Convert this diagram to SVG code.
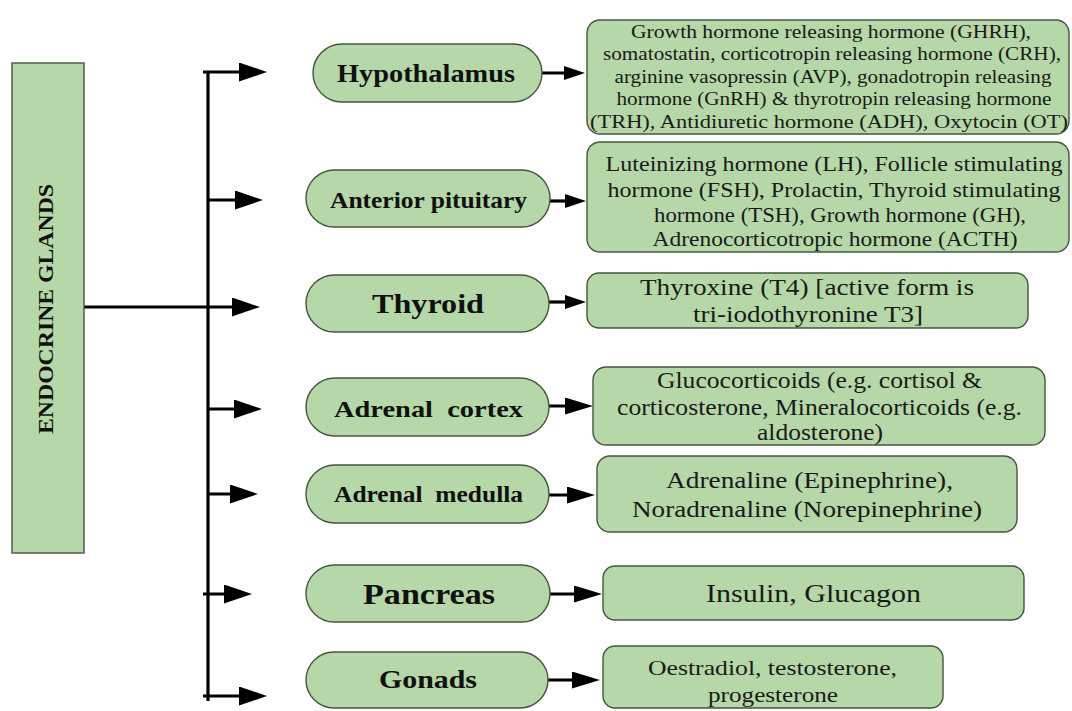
<svg xmlns="http://www.w3.org/2000/svg" width="1072" height="711" viewBox="0 0 1072 711">
<style>
  .bg { fill: #ffffff; }
  .node { fill: #b6d7a8; stroke: #45553f; stroke-width: 1.4; }
  .lbl { font-family: "Liberation Serif", "Times New Roman", serif; font-weight: bold; fill: #111; text-anchor: middle; }
  .txt { font-family: "Liberation Serif", "Times New Roman", serif; fill: #1a1a1a; text-anchor: middle; }
  .conn { stroke: #000; stroke-width: 3.2; fill: none; }
</style>
<defs>
  <marker id="big" markerUnits="userSpaceOnUse" markerWidth="28" markerHeight="19" refX="18" refY="9.5" orient="auto">
    <path d="M0,0 L28,9.5 L0,19 z" fill="#000"/>
  </marker>
  <marker id="mid" markerUnits="userSpaceOnUse" markerWidth="28" markerHeight="17" refX="18" refY="8.5" orient="auto">
    <path d="M0,0 L28,8.5 L0,17 z" fill="#000"/>
  </marker>
  <marker id="small" markerUnits="userSpaceOnUse" markerWidth="21" markerHeight="14" refX="12" refY="7" orient="auto">
    <path d="M0,0 L21,7 L0,14 z" fill="#000"/>
  </marker>
</defs>
<rect class="bg" x="0" y="0" width="1072" height="711"/>

<g id="connectors">
  <line class="conn" x1="208" y1="71" x2="208" y2="701"/>
  <path class="conn" d="M203,72 H257" marker-end="url(#big)"/>
  <path class="conn" d="M208,200 H253" marker-end="url(#big)"/>
  <path class="conn" d="M84,307 H250" marker-end="url(#big)"/>
  <path class="conn" d="M208,409 H252" marker-end="url(#big)"/>
  <path class="conn" d="M208,494 H248" marker-end="url(#big)"/>
  <path class="conn" d="M203,594 H242" marker-end="url(#big)"/>
  <path class="conn" d="M203,696 H257" marker-end="url(#big)"/>

  <path class="conn" d="M542,73 H576" marker-end="url(#small)"/>
  <path class="conn" d="M550,201 H577" marker-end="url(#small)"/>
  <path class="conn" d="M549,302 H577" marker-end="url(#small)"/>
  <path class="conn" d="M549,406 H583" marker-end="url(#mid)"/>
  <path class="conn" d="M549,495 H585" marker-end="url(#mid)"/>
  <path class="conn" d="M550,594 H592" marker-end="url(#mid)"/>
  <path class="conn" d="M548,680 H590" marker-end="url(#mid)"/>
</g>

<g id="endocrine-glands">
  <rect class="node" x="12" y="63" width="72" height="490"/>
  <text class="lbl" font-size="21.5" transform="translate(53,309) rotate(-90)" x="0" y="0" textLength="250" lengthAdjust="spacingAndGlyphs">ENDOCRINE GLANDS</text>
</g>

<g id="hypothalamus">
  <rect class="node" x="313" y="44" width="229" height="58" rx="29"/>
  <text class="lbl" font-size="25.5" x="426" y="82" textLength="178" lengthAdjust="spacingAndGlyphs">Hypothalamus</text>
</g>
<g id="hypothalamus-hormones">
  <rect class="node" x="587" y="20" width="482" height="114" rx="13"/>
  <text class="txt" font-size="19" x="831" y="38" textLength="400" lengthAdjust="spacingAndGlyphs">Growth hormone releasing hormone (GHRH),</text>
  <text class="txt" font-size="19" x="832" y="60" textLength="458" lengthAdjust="spacingAndGlyphs">somatostatin, corticotropin releasing hormone (CRH),</text>
  <text class="txt" font-size="19" x="833" y="82.5" textLength="437" lengthAdjust="spacingAndGlyphs">arginine vasopressin (AVP), gonadotropin releasing</text>
  <text class="txt" font-size="19" x="834" y="105" textLength="435" lengthAdjust="spacingAndGlyphs">hormone (GnRH) &amp; thyrotropin releasing hormone</text>
  <text class="txt" font-size="19" x="829" y="127.5" textLength="478" lengthAdjust="spacingAndGlyphs">(TRH), Antidiuretic hormone (ADH), Oxytocin (OT)</text>
</g>

<g id="anterior-pituitary">
  <rect class="node" x="306" y="170" width="244" height="57" rx="28.5"/>
  <text class="lbl" font-size="22.5" x="428.5" y="208" textLength="197" lengthAdjust="spacingAndGlyphs">Anterior pituitary</text>
</g>
<g id="anterior-pituitary-hormones">
  <rect class="node" x="587" y="142" width="482" height="110" rx="13"/>
  <text class="txt" font-size="22" x="834" y="171" textLength="457" lengthAdjust="spacingAndGlyphs">Luteinizing hormone (LH), Follicle stimulating</text>
  <text class="txt" font-size="22" x="834" y="197" textLength="453" lengthAdjust="spacingAndGlyphs">hormone (FSH), Prolactin, Thyroid stimulating</text>
  <text class="txt" font-size="22" x="840" y="222" textLength="372" lengthAdjust="spacingAndGlyphs">hormone (TSH), Growth hormone (GH),</text>
  <text class="txt" font-size="22" x="835" y="246" textLength="365" lengthAdjust="spacingAndGlyphs">Adrenocorticotropic hormone (ACTH)</text>
</g>

<g id="thyroid">
  <rect class="node" x="306" y="275" width="243" height="57" rx="28.5"/>
  <text class="lbl" font-size="27" x="428" y="313" textLength="112" lengthAdjust="spacingAndGlyphs">Thyroid</text>
</g>
<g id="thyroid-hormones">
  <rect class="node" x="587" y="273" width="441" height="55" rx="12"/>
  <text class="txt" font-size="24" x="807" y="295" textLength="334" lengthAdjust="spacingAndGlyphs">Thyroxine (T4) [active form is</text>
  <text class="txt" font-size="24" x="808" y="322" textLength="230" lengthAdjust="spacingAndGlyphs">tri-iodothyronine T3]</text>
</g>

<g id="adrenal-cortex">
  <rect class="node" x="306" y="378" width="243" height="58" rx="29"/>
  <text class="lbl" font-size="22.5" x="428.5" y="417" xml:space="preserve" textLength="189" lengthAdjust="spacingAndGlyphs">Adrenal  cortex</text>
</g>
<g id="adrenal-cortex-hormones">
  <rect class="node" x="593" y="367" width="452" height="78" rx="13"/>
  <text class="txt" font-size="23" x="819.5" y="388" textLength="325" lengthAdjust="spacingAndGlyphs">Glucocorticoids (e.g. cortisol &amp;</text>
  <text class="txt" font-size="23" x="819.5" y="415" textLength="405" lengthAdjust="spacingAndGlyphs">corticosterone, Mineralocorticoids (e.g.</text>
  <text class="txt" font-size="23" x="820" y="440" textLength="126" lengthAdjust="spacingAndGlyphs">aldosterone)</text>
</g>

<g id="adrenal-medulla">
  <rect class="node" x="306" y="465" width="243" height="58" rx="29"/>
  <text class="lbl" font-size="22.5" x="428.5" y="502" xml:space="preserve" textLength="189" lengthAdjust="spacingAndGlyphs">Adrenal  medulla</text>
</g>
<g id="adrenal-medulla-hormones">
  <rect class="node" x="597" y="456" width="420" height="76" rx="13"/>
  <text class="txt" font-size="23" x="809.5" y="488" textLength="287" lengthAdjust="spacingAndGlyphs">Adrenaline (Epinephrine),</text>
  <text class="txt" font-size="23" x="807" y="517" textLength="350" lengthAdjust="spacingAndGlyphs">Noradrenaline (Norepinephrine)</text>
</g>

<g id="pancreas">
  <rect class="node" x="306" y="565" width="244" height="57" rx="28.5"/>
  <text class="lbl" font-size="30" x="429" y="604" textLength="132" lengthAdjust="spacingAndGlyphs">Pancreas</text>
</g>
<g id="pancreas-hormones">
  <rect class="node" x="603" y="566" width="421" height="54" rx="12"/>
  <text class="txt" font-size="25" x="813.5" y="602" textLength="215" lengthAdjust="spacingAndGlyphs">Insulin, Glucagon</text>
</g>

<g id="gonads">
  <rect class="node" x="306" y="652" width="242" height="56" rx="28"/>
  <text class="lbl" font-size="25" x="428" y="688" textLength="98" lengthAdjust="spacingAndGlyphs">Gonads</text>
</g>
<g id="gonads-hormones">
  <rect class="node" x="603" y="646" width="340" height="62" rx="12"/>
  <text class="txt" font-size="22" x="772.5" y="675" textLength="249" lengthAdjust="spacingAndGlyphs">Oestradiol, testosterone,</text>
  <text class="txt" font-size="22" x="773" y="702" textLength="130" lengthAdjust="spacingAndGlyphs">progesterone</text>
</g>
</svg>
